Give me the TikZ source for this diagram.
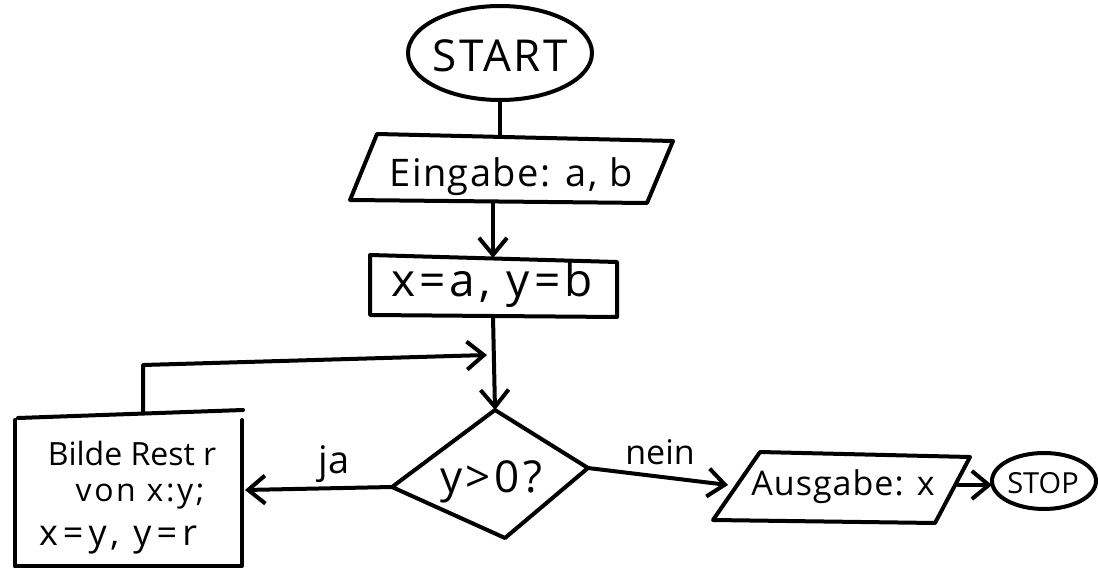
\documentclass[tikz,border=0pt]{standalone}
\usepackage{fontspec}
\setmainfont{Open Sans}
\usetikzlibrary{arrows.meta}
\tikzset{
  stroke/.style={line width=4pt, line cap=round, line join=round},
  flow/.style={stroke, -{Straight Barb[length=17pt,width=28pt,line width=4pt]}},
  lbl/.style={inner sep=0pt, font=\fontsize{#1}{#1}\selectfont},
  lbl/.default=36,
  wide/.style={execute at begin node=\addfontfeatures{LetterSpace=#1}},
  wide/.default=12
}
\begin{document}
\begin{tikzpicture}[x=1pt, y=-1pt]
  \useasboundingbox (0,0) rectangle (1098,569);

  % terminal: START
  \draw[stroke] (500,53) ellipse [x radius=92, y radius=47];
  \node[lbl=44, wide=6] (start) at (500,56) {START};
  \coordinate (startS) at (500,100);

  % input: Eingabe
  \draw[stroke] (377,134) -- (673,141) -- (647,203) -- (350,200) -- cycle;
  \node[lbl=38, wide=4] (input) at (511,177) {Eingabe: a, b};
  \coordinate (inputN) at (500,137);
  \coordinate (inputS) at (493,202);

  % assignment box
  \draw[stroke] (370,255) -- (617,262) -- (617,317) -- (370,315) -- cycle;
  \node[lbl=46, wide=9] (init) at (492,285) {x=a, y=b};
  \coordinate (initN) at (493,258);
  \coordinate (initS) at (493,316);

  % decision
  \coordinate (decN) at (495,410);
  \coordinate (decE) at (588,468);
  \coordinate (decS) at (505,538);
  \coordinate (decW) at (392,487);
  \draw[stroke] (decN) -- (decE) -- (decS) -- (decW) -- cycle;
  \node[lbl=44, wide=8] (test) at (491,482) {y>0?};

  % loop body box (runs off the lower edge)
  \draw[stroke] (15,566) -- (15,420);
  \draw[stroke] (18,418) -- (243,410);
  \draw[stroke] (242,420) -- (242,566) -- (15,566);
  \node[lbl=32] (body1) at (132,453) {Bilde Rest r};
  \node[lbl=32, wide=8] (body2) at (140,497) {von x:y;};
  \node[lbl=36, wide=14] (body3) at (118,540) {x=y, y=r};
  \coordinate (bodyN) at (143,412);
  \coordinate (bodyE) at (245,490);
  \coordinate (loopA) at (143,365);
  \coordinate (loopB) at (487,355);

  % output: Ausgabe
  \draw[stroke] (760,452) -- (970,457) -- (935,523) -- (713,520) -- cycle;
  \node[lbl=34, wide=3] (output) at (843,487) {Ausgabe: x};
  \coordinate (outputW) at (728,485);
  \coordinate (outputE) at (958,485);

  % terminal: STOP
  \draw[stroke] (1044,481) ellipse [x radius=52, y radius=28];
  \node[lbl=29] (stop) at (1043,483) {STOP};
  \coordinate (stopW) at (992,485);

  % connectors
  \draw[stroke] (startS) -- (inputN);
  \draw[flow] (inputS) -- (initN);
  \draw[flow] (initS) -- (decN);
  \draw[flow] (decW) -- (bodyE);
  \draw[flow] (bodyN) -- (loopA) -- (loopB);
  \draw[flow] (decE) -- (outputW);
  \draw[flow] (outputE) -- (stopW);

  % branch labels
  \node[lbl=38] (yes) at (334,464) {ja};
  \node[lbl=34] (no) at (660,452) {nein};
\end{tikzpicture}
\end{document}
